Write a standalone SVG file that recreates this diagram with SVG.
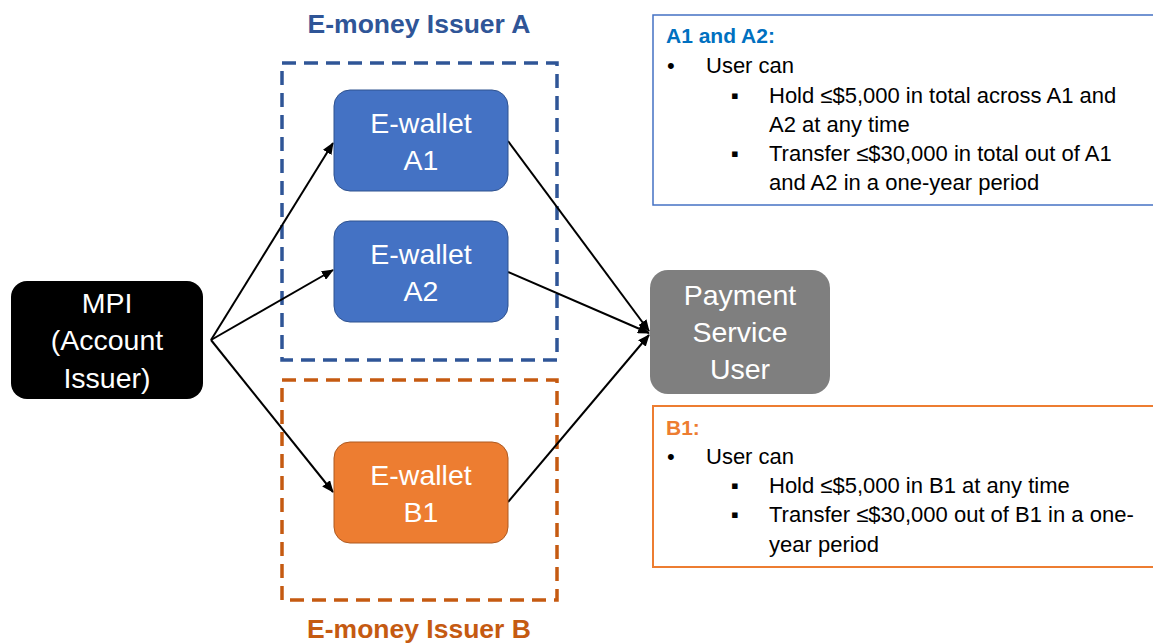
<svg xmlns="http://www.w3.org/2000/svg" width="1153" height="643" viewBox="0 0 1153 643">
  <defs>
    <marker id="arrow" markerUnits="userSpaceOnUse" markerWidth="12" markerHeight="10" refX="11" refY="5" orient="auto">
      <path d="M0,0 L12,5 L0,10 Z" fill="#000"/>
    </marker>
    <style>
      .node-label { font-family: "Liberation Sans", Arial, sans-serif; font-size: 28.5px; fill: #fff; text-anchor: middle; }
      .group-title { font-family: "Liberation Sans", Arial, sans-serif; font-size: 26.5px; font-weight: bold; text-anchor: middle; }
      .note { font-family: "Liberation Sans", Arial, "DejaVu Sans", sans-serif; font-size: 22px; fill: #000; }
      .note-head { font-family: "Liberation Sans", Arial, sans-serif; font-size: 21px; font-weight: bold; }
      .conn { stroke: #000; stroke-width: 2; fill: none; marker-end: url(#arrow); }
      .dash { fill: none; stroke-width: 3.5; stroke-dasharray: 14 8; }
    </style>
  </defs>
  <rect width="1153" height="643" fill="#fff"/>

  <!-- Issuer groups -->
  <g id="issuer-a">
    <rect class="dash" x="282" y="63" width="275" height="297" stroke="#2F5597"/>
    <text class="group-title" x="419" y="33" fill="#2F5597">E-money Issuer A</text>
  </g>
  <g id="issuer-b">
    <rect class="dash" x="282" y="380" width="275" height="220" stroke="#C55A11"/>
    <text class="group-title" x="419" y="638" fill="#C55A11">E-money Issuer B</text>
  </g>

  <!-- Connectors -->
  <g id="connectors">
    <line class="conn" x1="211" y1="340" x2="333" y2="143"/>
    <line class="conn" x1="211" y1="340" x2="333" y2="270"/>
    <line class="conn" x1="211" y1="340" x2="333" y2="492"/>
    <line class="conn" x1="508" y1="141" x2="649" y2="331"/>
    <line class="conn" x1="508" y1="272" x2="649" y2="333"/>
    <line class="conn" x1="508" y1="502" x2="649" y2="335"/>
  </g>

  <!-- Nodes -->
  <g id="mpi">
    <rect x="11" y="281" width="192" height="118" rx="16" fill="#000"/>
    <text class="node-label" x="107" y="313">MPI</text>
    <text class="node-label" x="107" y="350">(Account</text>
    <text class="node-label" x="107" y="388">Issuer)</text>
  </g>
  <g id="wallet-a1">
    <rect x="334" y="90" width="174" height="101" rx="16" fill="#4472C4" stroke="#2F528F" stroke-width="1"/>
    <text class="node-label" x="421" y="133">E-wallet</text>
    <text class="node-label" x="421" y="170">A1</text>
  </g>
  <g id="wallet-a2">
    <rect x="334" y="221" width="174" height="101" rx="16" fill="#4472C4" stroke="#2F528F" stroke-width="1"/>
    <text class="node-label" x="421" y="264">E-wallet</text>
    <text class="node-label" x="421" y="301">A2</text>
  </g>
  <g id="wallet-b1">
    <rect x="334" y="442" width="174" height="101" rx="16" fill="#ED7D31" stroke="#AE5A21" stroke-width="1"/>
    <text class="node-label" x="421" y="485">E-wallet</text>
    <text class="node-label" x="421" y="522">B1</text>
  </g>
  <g id="payment-user">
    <rect x="650" y="270" width="180" height="124" rx="18" fill="#7F7F7F"/>
    <text class="node-label" x="740" y="305">Payment</text>
    <text class="node-label" x="740" y="342">Service</text>
    <text class="node-label" x="740" y="379">User</text>
  </g>

  <!-- Limit notes -->
  <g id="note-a">
    <rect x="653" y="15" width="510" height="190" fill="#fff" stroke="#4472C4" stroke-width="1.5"/>
    <text class="note-head" x="666" y="43" fill="#0070C0">A1 and A2:</text>
    <text class="note" x="667" y="73">•</text>
    <text class="note" x="706" y="73">User can</text>
    <text class="note" x="731" y="103" font-size="14">▪</text>
    <text class="note" x="769" y="103">Hold ≤$5,000 in total across A1 and</text>
    <text class="note" x="769" y="132">A2 at any time</text>
    <text class="note" x="731" y="161" font-size="14">▪</text>
    <text class="note" x="769" y="161">Transfer ≤$30,000 in total out of A1</text>
    <text class="note" x="769" y="190">and A2 in a one-year period</text>
  </g>
  <g id="note-b">
    <rect x="653" y="406" width="510" height="161" fill="#fff" stroke="#ED7D31" stroke-width="2"/>
    <text class="note-head" x="666" y="435" fill="#ED7D31">B1:</text>
    <text class="note" x="667" y="464">•</text>
    <text class="note" x="706" y="464">User can</text>
    <text class="note" x="731" y="493" font-size="14">▪</text>
    <text class="note" x="769" y="493">Hold ≤$5,000 in B1 at any time</text>
    <text class="note" x="731" y="522" font-size="14">▪</text>
    <text class="note" x="769" y="522">Transfer ≤$30,000 out of B1 in a one-</text>
    <text class="note" x="769" y="552">year period</text>
  </g>
</svg>
